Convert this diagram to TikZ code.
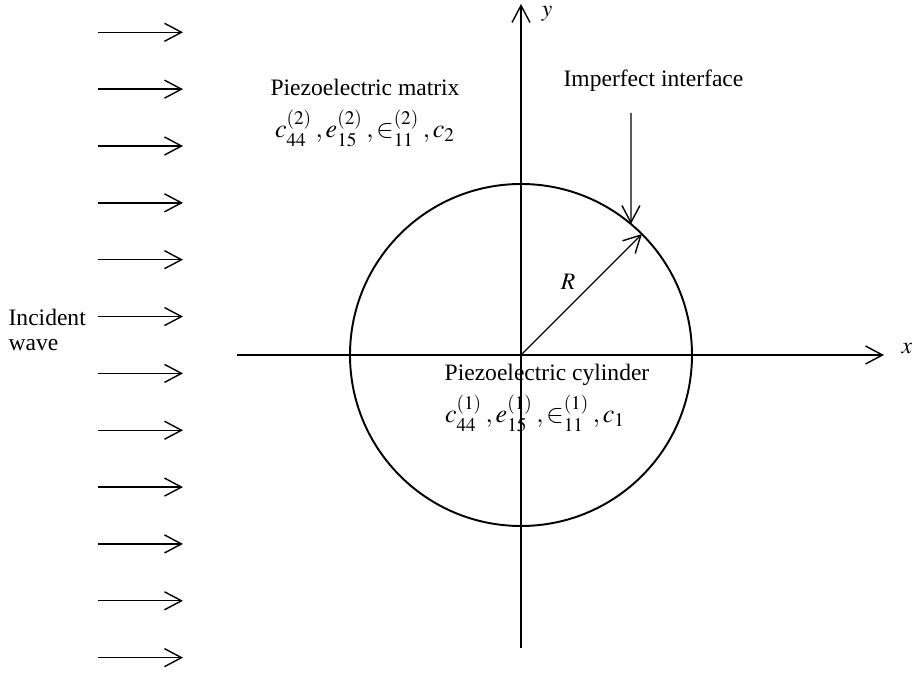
\documentclass[tikz,border=0pt]{standalone}
\usepackage{mathptmx}
\usepackage{fontspec}
\setmainfont{Liberation Serif}
\usetikzlibrary{arrows.meta}
\begin{document}
\fontsize{13.4}{14.2}\selectfont
\begin{tikzpicture}[line width=0.75pt,
    barb/.style={-{Straight Barb[length=3.4mm,width=3.6mm,line width=0.8pt]}},
    lbl/.style={inner sep=0pt,anchor=base},
    prop/.style={lbl,font=\fontsize{14.8}{16}\selectfont}]
  \useasboundingbox (-10.42,-6.36) rectangle (7.82,7.10);
  % incident wave
  \foreach \i in {0,...,11}{
    \coordinate (w\i a) at (-8.46,6.454-1.137*\i);
    \coordinate (w\i b) at (-6.76,6.454-1.137*\i);
    \draw[barb] (w\i a)--(w\i b);
  }
  \node[inner sep=0pt,anchor=west,align=left] (inc) at (-10.26,0.5) {Incident\\wave};
  % axes
  \coordinate (O) at (0,0);
  \coordinate (X0) at (-5.68,0); \coordinate (X1) at (7.26,0);
  \coordinate (Y0) at (0,-5.86); \coordinate (Y1) at (0,7.02);
  \draw[barb] (X0)--(X1);
  \draw[barb] (Y0)--(Y1);
  \node (xl) at (7.72,0.12) {$x$};
  \node (yl) at (0.52,6.82) {$y$};
  % cylinder
  \draw[line width=1.1pt] (O) circle (3.42);
  \coordinate (Rtip) at (45:3.42);
  \draw[barb] (O)--(Rtip);
  \node (R) at (0.94,1.46) {$R$};
  \coordinate (hit) at (50:3.42);
  \coordinate (top) at (2.2,4.84);
  \draw[barb] (top)--(hit);
  \node[lbl] (imp) at (2.65,5.36) {Imperfect interface};
  \node[lbl] (mat) at (-3.12,5.18) {Piezoelectric matrix};
  \node[prop] (matp) at (-3.12,4.34) {$c_{44}^{(2)}\:,e_{15}^{(2)}\:,\in_{11}^{(2)}\:,c_2$};
  \node[lbl] (cyl) at (0.52,-0.52) {Piezoelectric cylinder};
  \node[prop] (cylp) at (0.28,-1.36) {$c_{44}^{(1)}\:,e_{15}^{(1)}\:,\in_{11}^{(1)}\:,c_1$};
\end{tikzpicture}
\end{document}
